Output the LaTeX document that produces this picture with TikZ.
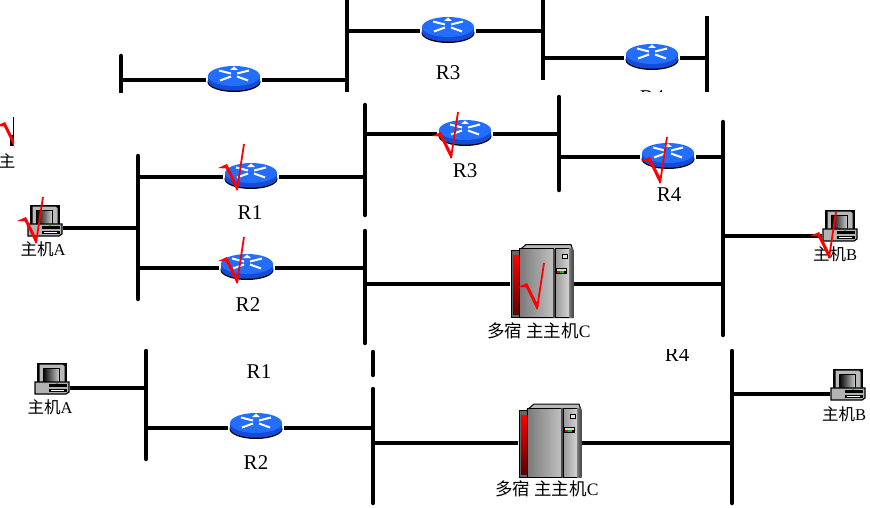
\documentclass[tikz,border=0pt]{standalone}
\usepackage{fontspec}
\setmainfont{Liberation Serif}
\newfontfamily\cjk{Noto Sans CJK SC}
\definecolor{rblue}{RGB}{35,110,255}
\definecolor{rdark}{RGB}{20,75,215}
\definecolor{rred}{RGB}{255,0,0}
\tikzset{
  busline/.style={line width=4.5pt,black,line cap=round},
  linkline/.style={line width=3.4pt,black},
  routernode/.style={inner sep=0pt,minimum width=56pt,minimum height=24pt},
  hostnode/.style={inner sep=0pt,minimum width=36pt,minimum height=30pt},
  servernode/.style={inner sep=0pt,minimum width=63pt,minimum height=60pt},
  lab/.style={inner sep=0pt,font=\fontsize{21}{21}\selectfont},
  cjklab/.style={inner sep=0pt,font=\fontsize{16.5}{16.5}\selectfont},
  cjkwide/.style={inner sep=0pt,font=\fontsize{17.5}{17.5}\selectfont},
  checkmark/.style={draw=rred,line join=miter},
  routerpic/.pic={
    \fill[black] (0,3.5) ellipse [x radius=26.5,y radius=10];
    \fill[rdark] (-26,-2.5) rectangle (26,2.5);
    \fill[rdark] (0,2.5) ellipse [x radius=26,y radius=9.7];
    \fill[rblue] (0,-2.5) ellipse [x radius=26,y radius=10];
    \draw[white,line width=2pt] (-15,-8) -- (-3,-5) (15,-8) -- (3,-5)
       (-14,2) -- (-3,-2) (14,2) -- (3,-2);
    \fill[white] (0,-12) -- (-4,-8.5) -- (4,-8.5) -- cycle;
  },
  hostpic/.pic={
    \fill[black] (-15,-16) rectangle (15,8);
    \fill[gray!55,draw=black,line width=1pt] (-13,-15) -- (11,-15) -- (13,-13) -- (13,6) -- (-13,6) -- cycle;
    \shade[left color=black,right color=gray!40,draw=black,line width=.8pt] (-9,-11) rectangle (7,3);
    \fill[gray!60,draw=black,line width=1.2pt] (-17,3) -- (17,3) -- (17,13) -- (14,15) -- (-17,15) -- cycle;
    \fill[black] (-3,5) rectangle (15,7.5);
    \fill[black] (-3,10) rectangle (15,13);
    \draw[white,line width=.7pt] (-1,11) -- (12,11);
    \fill[green!80!black] (4,3.8) rectangle (6,4.8);
  },
  serverpic/.pic={
    \fill[gray!55,draw=black,line width=1pt] (-23,-31) -- (-16,-37) -- (29,-37) -- (31,-31) -- (31,36) -- (-23,36) -- cycle;
    \fill[gray!80!black,draw=black,line width=1pt] (-31,-31) -- (-23,-31) -- (-23,36) -- (-31,36) -- cycle;
    \shade[top color=rred,bottom color=black!65!red] (-29,-26) rectangle (-23,33);
    \shade[left color=gray!95!black,right color=gray!50,draw=black,line width=1pt] (-23,-33) rectangle (11,36);
    \shade[left color=gray!80,right color=gray!35,draw=black,line width=1pt] (13,-33) rectangle (27,36);
    \shade[left color=gray,right color=black!75] (27,-33) rectangle (31,36);
    \fill[black!70] (11,-33) rectangle (13,36);
    \fill[black] (14,-8) rectangle (25,-14);
    \fill[gray!30] (15,-13) rectangle (24,-11);
    \fill[rred] (15,-11) rectangle (18,-9);
    \fill[green!80!black] (18,-11) rectangle (22,-9);
    \fill[gray!20,draw=black,line width=.7pt] (20,-27) rectangle (25,-23);
  },
}
\newcommand{\chk}[2]{\draw[checkmark,line width=1.8pt] (#1,#2) -- (#1+7,#2-46);
  \fill[rred] (#1-19,#2-22) -- (#1-10,#2-26) -- (#1+1.5,#2-3) -- (#1,#2+1) -- (#1-11,#2-21.5) -- cycle;}
\begin{document}
\begin{tikzpicture}[x=1pt,y=-1pt]
\useasboundingbox (0,0) rectangle (870,508);
\fill[white] (0,0) rectangle (870,508);
% ---------- top layer ----------
\coordinate (ta1) at (121,56); \coordinate (ta2) at (121,92);
\coordinate (tb1) at (347,0);  \coordinate (tb2) at (347,92);
\coordinate (tc1) at (543,0);  \coordinate (tc2) at (543,80);
\coordinate (td1) at (707,16); \coordinate (td2) at (707,92);
\node[routernode] (tr2) at (234,80) {};
\node[routernode] (tr3) at (448,31) {};
\node[routernode] (tr4) at (652,58) {};
\draw[busline] (ta1)--(ta2);
\draw[busline,line cap=butt] (tb1)--(tb2);
\draw[busline,line cap=butt] (tc1)--(tc2);
\draw[busline,line cap=butt] (td1)--(td2);
\draw[linkline] (ta1 |- tr2) -- (tr2.west);
\draw[linkline] (tr2.east) -- (tb1 |- tr2);
\draw[linkline] (tb1 |- tr3) -- (tr3.west);
\draw[linkline] (tr3.east) -- (tc1 |- tr3);
\draw[linkline] (tc1 |- tr4) -- (tr4.west);
\draw[linkline] (tr4.east) -- (td1 |- tr4);
\pic at ([yshift=1.5pt]tr2.center) {routerpic};
\pic at ([yshift=1.5pt]tr3.center) {routerpic};
\pic at ([yshift=1.5pt]tr4.center) {routerpic};
\node[lab] (tl3) at (448,73) {R3};
\begin{scope}
\clip (620,60) rectangle (690,92);
\node[lab] (tl4) at (652,98) {R4};
\end{scope}
% ---------- bottom layer ----------
\coordinate (la1) at (146,351); \coordinate (la2) at (146,459);
\coordinate (lb1) at (373,352); \coordinate (lb2) at (373,375);
\coordinate (lc1) at (373,389); \coordinate (lc2) at (373,503);
\coordinate (ld1) at (732,351); \coordinate (ld2) at (732,503);
\node[routernode] (lr2) at (256,428) {};
\node[hostnode] (lha) at (52,388) {};
\node[hostnode] (lhb) at (848,394) {};
\node[servernode] (lsc) at (550,443) {};
\draw[busline] (la1)--(la2);
\draw[busline] (lb1)--(lb2);
\draw[busline] (lc1)--(lc2);
\draw[busline] (ld1)--(ld2);
\draw[linkline] (lha.east) -- (la1 |- lha);
\draw[linkline] (la1 |- lr2) -- (lr2.west);
\draw[linkline] (lr2.east) -- (lc1 |- lr2);
\draw[linkline] (lc1 |- lsc) -- (lsc.west);
\draw[linkline] (lsc.east) -- (ld1 |- lsc);
\draw[linkline] (ld1 |- lhb) -- (lhb.west);
\pic at ([yshift=2.5pt]lr2.center) {routerpic};
\pic at ([yshift=9pt]lha.center) {hostpic};
\pic at ([yshift=9pt]lhb.center) {hostpic};
\pic at ([yshift=2pt]lsc.center) {serverpic};
\node[lab] (ll1) at (259,372) {R1};
\node[lab] (ll2) at (256,463) {R2};
\node[cjklab] (lla) at (50,407) {{\cjk 主机}A};
\node[cjklab] (llb) at (844,414) {{\cjk 主机}B};
\node[cjkwide] (llc) at (547,489) {{\cjk 多宿 主主机}C};
\begin{scope}
\clip (650,349) rectangle (710,370);
\node[lab] (ll4) at (677,355) {R4};
\end{scope}
% ---------- middle layer ----------
\fill[white] (0,93) rectangle (870,349);
\coordinate (ma1) at (138,156); \coordinate (ma2) at (138,299);
\coordinate (mb1) at (365,105); \coordinate (mb2) at (365,215);
\coordinate (mc1) at (365,231); \coordinate (mc2) at (365,343);
\coordinate (md1) at (559,97);  \coordinate (md2) at (559,190);
\coordinate (me1) at (723,122); \coordinate (me2) at (723,335);
\node[routernode] (mr1) at (251,177) {};
\node[routernode] (mr2) at (247,268) {};
\node[routernode] (mr3) at (465,134) {};
\node[routernode] (mr4) at (668,157) {};
\node[hostnode] (mha) at (45,228) {};
\node[hostnode] (mhb) at (840,236) {};
\node[servernode] (msc) at (542,284) {};
\draw[busline] (ma1)--(ma2);
\draw[busline] (mb1)--(mb2);
\draw[busline] (mc1)--(mc2);
\draw[busline] (md1)--(md2);
\draw[busline] (me1)--(me2);
\draw[linkline] (mha.east) -- (ma1 |- mha);
\draw[linkline] (ma1 |- mr1) -- (mr1.west);
\draw[linkline] (mr1.east) -- (mb1 |- mr1);
\draw[linkline] (ma1 |- mr2) -- (mr2.west);
\draw[linkline] (mr2.east) -- (mc1 |- mr2);
\draw[linkline] (mb1 |- mr3) -- (mr3.west);
\draw[linkline] (mr3.east) -- (md1 |- mr3);
\draw[linkline] (md1 |- mr4) -- (mr4.west);
\draw[linkline] (mr4.east) -- (me1 |- mr4);
\draw[linkline] (mc1 |- msc) -- (msc.west);
\draw[linkline] (msc.east) -- (me1 |- msc);
\draw[linkline] (me1 |- mhb) -- (mhb.west);
\pic at ([yshift=1.5pt]mr1.center) {routerpic};
\pic at ([yshift=1.5pt]mr2.center) {routerpic};
\pic at ([yshift=1.5pt]mr3.center) {routerpic};
\pic at ([yshift=1.5pt]mr4.center) {routerpic};
\pic at ([yshift=7pt]mha.center) {hostpic};
\pic at ([yshift=10pt]mhb.center) {hostpic};
\pic at ([yshift=2.5pt]msc.center) {serverpic};
\node[lab] (ml1) at (250,213) {R1};
\node[lab] (ml2) at (248,305) {R2};
\node[lab] (ml3) at (465,171) {R3};
\node[lab] (ml4) at (669,195) {R4};
\node[cjklab] (mla) at (43,249) {{\cjk 主机}A};
\node[cjklab] (mlb) at (835,254) {{\cjk 主机}B};
\node[cjkwide] (mlc) at (539,331) {{\cjk 多宿 主主机}C};
\chk{237}{190}
\chk{237}{283}
\chk{451}{158}
\chk{660}{183}
\chk{36}{243}
\chk{829}{258}
\chk{537}{309}
% left fragment
\begin{scope}
\clip (0,110) rectangle (14,175);
\draw[black,line width=.8pt] (13,117) -- (13,135);
\fill[black] (10,135) rectangle (14,146);
\node[cjklab] (mf) at (7,161) {{\cjk 主}};
\chk{15}{148}
\end{scope}
\end{tikzpicture}
\end{document}
